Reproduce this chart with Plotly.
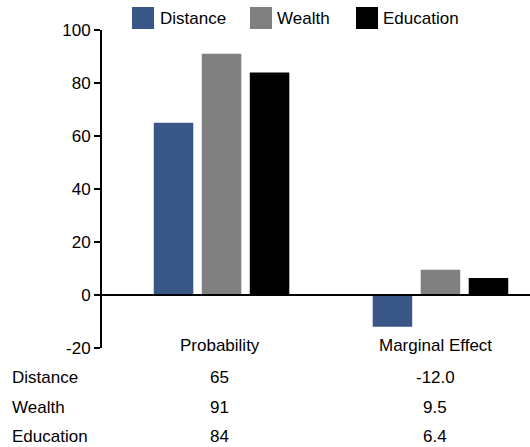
import plotly.graph_objects as go

categories = ["Probability", "Marginal Effect"]
series_names = ["Distance", "Wealth", "Education"]
distance = [65, -12.0]
wealth = [91, 9.5]
education = [84, 6.4]
table_text = [["65", "-12.0"], ["91", "9.5"], ["84", "6.4"]]
y_ticks = [-20, 0, 20, 40, 60, 80, 100]
y_tick_text = ["-20", "0", "20", "40", "60", "80", "100"]

colors = ["#385787", "#808080", "#000000"]
values = [distance, wealth, education]

W, H = 530, 447
L, T = 102, 30
PLOT_BOTTOM = 348
R, B = 0, H - PLOT_BOTTOM
pw, ph = W - L - R, H - T - B

def px(x):
    return (x - L) / pw

def py(y):
    return (PLOT_BOTTOM - y) / ph

FONT = "Liberation Sans, Arial, sans-serif"
FS = 17
label_shift = [-2, -5]

fig = go.Figure()
for name, vals, c in zip(series_names, values, colors):
    fig.add_trace(go.Bar(x=[0, 1], y=vals, name=name, marker=dict(color=c, line=dict(width=0)),
                         showlegend=False, hoverinfo="skip"))

annotations = []
shapes = []
shapes.append(dict(type="line", xref="paper", yref="y", x0=0, x1=1, y0=0, y1=0,
                   line=dict(color="#000", width=2), layer="above"))
for i, cat in enumerate(categories):
    annotations.append(dict(x=i, y=py(345), xref="x", yref="paper", text=cat, showarrow=False,
                            xanchor="center", yanchor="middle", xshift=label_shift[i],
                            font=dict(size=FS, color="#000")))
row_y = [377, 407, 436]
for r, name in enumerate(series_names):
    annotations.append(dict(x=px(10), y=py(row_y[r]), xref="paper", yref="paper", text=name,
                            showarrow=False, xanchor="left", yanchor="middle",
                            font=dict(size=FS, color="#000")))
    for i in range(len(categories)):
        annotations.append(dict(x=i, y=py(row_y[r]), xref="x", yref="paper", text=table_text[r][i],
                                showarrow=False, xanchor="center", yanchor="middle",
                                xshift=label_shift[i], font=dict(size=FS, color="#000")))
leg = [(132, 158), (250, 275), (356, 381)]
for (sx, tx), name, c in zip(leg, series_names, colors):
    shapes.append(dict(type="rect", xref="paper", yref="paper", x0=px(sx), x1=px(sx + 22),
                       y0=py(29), y1=py(7), fillcolor=c, line=dict(width=0)))
    annotations.append(dict(x=px(tx), y=py(18), xref="paper", yref="paper", text=name,
                            showarrow=False, xanchor="left", yanchor="middle",
                            font=dict(size=FS, color="#000")))

fig.update_layout(
    width=W, height=H,
    margin=dict(l=L, r=R, t=T, b=B, pad=0),
    paper_bgcolor="white", plot_bgcolor="white",
    font=dict(family=FONT, size=FS, color="#000"),
    barmode="group", bargap=0.342, bargroupgap=0.177,
    annotations=annotations, shapes=shapes,
    xaxis=dict(range=[-0.546, 1.409], showticklabels=False, showgrid=False, zeroline=False,
               showline=False, ticks=""),
    yaxis=dict(range=[-20, 100], tickvals=y_ticks, ticktext=y_tick_text, showgrid=False,
               zeroline=False, showline=True,
               linecolor="#000", linewidth=2, ticks="outside", ticklen=6, tickwidth=2,
               tickcolor="#000", tickfont=dict(size=FS, color="#000")),
)

fig.write_html("out.html", config={"displayModeBar": False},
               post_script="document.body.style.margin='0';document.body.style.overflow='hidden';")
